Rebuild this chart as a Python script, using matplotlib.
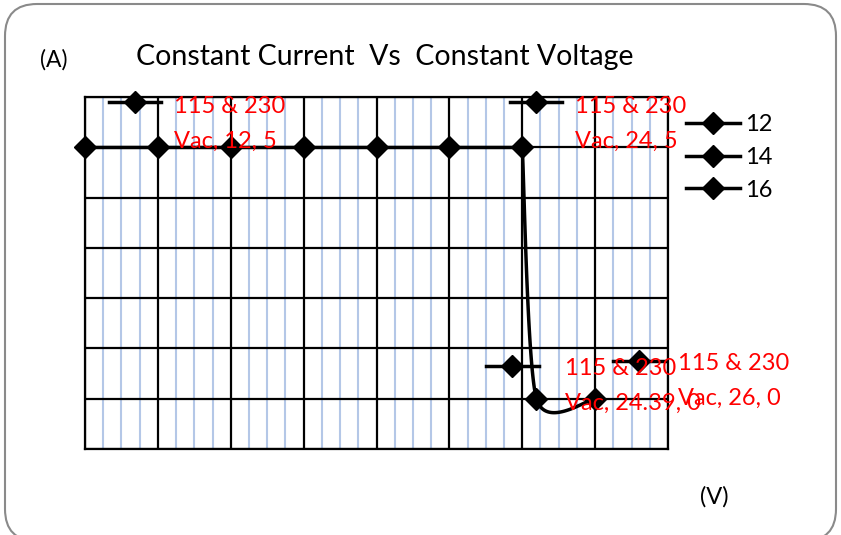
import numpy as np
import matplotlib
matplotlib.use("Agg")
import matplotlib.pyplot as plt
from matplotlib.patches import FancyBboxPatch
from matplotlib.lines import Line2D
from matplotlib.transforms import offset_copy

plt.rcParams['font.family'] = ['Lato', 'DejaVu Sans']

# data: voltage (V) vs current (A)
volts = [12, 14, 16, 18, 20, 22, 24, 24.39, 26]
amps = [5, 5, 5, 5, 5, 5, 5, 0, 0]
series_name = "115 & 230 Vac"
labelled = [0, 6, 7, 8]          # points that carry a data label
legend_labels = ["12", "14", "16"]
title = "Constant Current  Vs  Constant Voltage"

fig = plt.figure(figsize=(8.41, 5.35), dpi=100)

# background frame in pixel coords
bg = fig.add_axes([0, 0, 1, 1], zorder=-1)
bg.set_xlim(0, 841)
bg.set_ylim(535, 0)
bg.axis('off')
bg.add_patch(FancyBboxPatch((5, 4), 831, 537, boxstyle="round,pad=0,rounding_size=32",
                            fc='white', ec='#8a8a8a', lw=1.5))
bg.text(40, 60, "(A)", fontsize=16.5, va='center', ha='left')
bg.text(385, 57, title, fontsize=20.5, va='center', ha='center')
bg.text(714, 497, "(V)", fontsize=17, va='center', ha='center')

ax = fig.add_axes([85 / 841, 1 - 449 / 535, 583 / 841, 352 / 535])
ax.set_xlim(12, 28)
ax.set_ylim(-1, 6)
ax.set_xticks(np.arange(12, 28.1, 2))
ax.set_xticks(np.arange(12, 28.1, 0.5), minor=True)
ax.set_yticks(np.arange(-1, 6.1, 1))
ax.tick_params(which='both', length=0, labelbottom=False, labelleft=False)
ax.grid(which='minor', axis='x', color='#b4c7e7', lw=1.5)
ax.grid(which='major', color='black', lw=1.6)
ax.set_axisbelow(True)
for s in ax.spines.values():
    s.set_color('black')
    s.set_linewidth(1.6)

# straight part, then smoothed tail (bezier through the last three points, in pixel space)
n_flat = 7
ax.plot(volts[:n_flat], amps[:n_flat], color='black', lw=2.5, zorder=3)
tail = ax.transData.transform(np.column_stack([volts[n_flat - 1:], amps[n_flat - 1:]]))
pts = np.vstack([tail[0], tail, tail[-1]])
curve = []
t = np.linspace(0, 1, 60)[:, None]
for i in range(1, len(pts) - 2):
    p0, p1, p2, p3 = pts[i - 1], pts[i], pts[i + 1], pts[i + 2]
    c1 = p1 + (p2 - p0) / 8
    c2 = p2 - (p3 - p1) / 8
    seg = (1 - t) ** 3 * p1 + 3 * (1 - t) ** 2 * t * c1 + 3 * (1 - t) * t ** 2 * c2 + t ** 3 * p2
    curve.append(seg)
curve = ax.transData.inverted().transform(np.vstack(curve))
ax.plot(curve[:, 0], curve[:, 1], color='black', lw=2.5, zorder=3)
ax.plot(volts, amps, ls='none', marker='D', ms=11.5, color='black', zorder=4, clip_on=False)

# data labels with legend keys (offsets in pixels from the point)
key_off = {0: (50, 45), 6: (14, 45), 7: (-24, 33), 8: (44, 38)}
text_off = {0: (89, 23), 6: (53, 23), 7: (29, 13), 8: (83, 18)}
for i in labelled:
    x, y = volts[i], amps[i]
    kx, ky = key_off[i]
    tr = offset_copy(ax.transData, fig=fig, x=kx, y=ky, units='dots')
    ax.add_line(Line2D([x - 0.72, x + 0.72], [y, y], transform=tr, color='black', lw=2.5,
                       clip_on=False, zorder=5))
    ax.add_line(Line2D([x], [y], transform=tr, marker='D', ms=11.5, color='black',
                       clip_on=False, zorder=5))
    tx, ty = text_off[i]
    trt = offset_copy(ax.transData, fig=fig, x=tx, y=ty, units='dots')
    ax.text(x, y, f"{series_name}, {x:g}, {y:g}".replace("230 ", "230\n"),
            transform=trt, color='red', fontsize=17, va='center', ha='left',
            linespacing=1.8, zorder=6, clip_on=False)

handles = [Line2D([], [], color='black', lw=2.5, marker='D', ms=11.5) for _ in legend_labels]
fig.legend(handles, legend_labels, loc='upper left', bbox_to_anchor=(686 / 841, 1 - 114 / 535),
           frameon=False, fontsize=17, handlelength=2.3, handletextpad=0.2,
           labelspacing=0.5, borderaxespad=0, borderpad=0)

fig.savefig("out.png", dpi=100)
